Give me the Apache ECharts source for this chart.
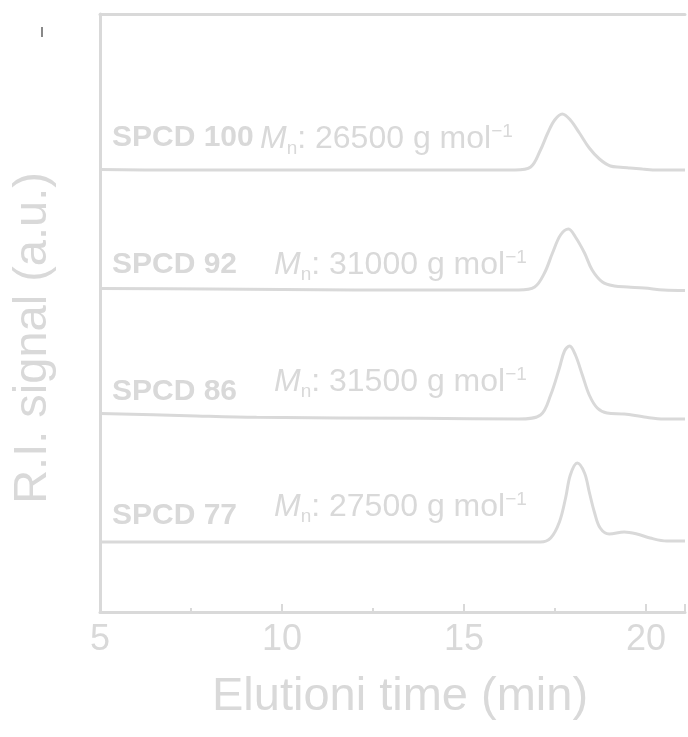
<!DOCTYPE html>
<html>
<head>
<meta charset="utf-8">
<script src="https://cdn.jsdelivr.net/npm/echarts@6/dist/echarts.min.js"></script>
<style>
  html, body { margin: 0; padding: 0; background: #ffffff; }
  #chart { width: 688px; height: 737px; }
</style>
</head>
<body>
<div id="chart"></div>
<script>
// GPC traces (R.I. signal vs elution time), one per sample.
const sampleNames = ['SPCD 100', 'SPCD 92', 'SPCD 86', 'SPCD 77'];
const molarMass = [26500, 31000, 31500, 27500];        // Mn, g mol^-1
const traceOffsets = [442, 322, 193, 70];              // vertical stacking of traces (a.u.)

const time100 = [5.0, 7.0, 10.0, 14.0, 16.4, 16.83, 17.10, 17.30, 17.49, 17.70, 17.92, 18.17, 18.44, 18.72, 19.02, 19.3, 19.56, 19.9, 20.30, 21.07];
const signal100 = [0.5, 0, 0, 0, 0, 3, 20, 37, 50, 56, 50, 37, 22, 11, 4, 2.8, 2, 1, 0, 0];

const time92 = [5.0, 8.0, 12.0, 16.5, 16.94, 17.21, 17.43, 17.65, 17.87, 18.06, 18.31, 18.52, 18.80, 19.13, 19.5, 19.95, 20.49, 21.07];
const signal92 = [1.5, 1, 0, 0, 3, 17, 37, 55, 61, 53, 37, 20, 8, 4, 3, 2, 0, -0.5];

const time86 = [5.0, 7.4, 9.3, 13.8, 16.5, 17.10, 17.38, 17.62, 17.76, 17.90, 18.06, 18.25, 18.44, 18.66, 18.93, 19.40, 19.95, 20.49, 21.07];
const signal86 = [5.5, 3.3, 1.7, 0.7, 0, 4, 24, 51, 68, 73, 64, 44, 24, 11, 6, 5, 2, 0, 0];

const time77 = [5.0, 10.0, 15.0, 17.1, 17.38, 17.62, 17.79, 17.92, 18.11, 18.31, 18.44, 18.58, 18.74, 18.99, 19.40, 19.75, 20.11, 20.57, 21.07];
const signal77 = [0, 0, 0, 0, 4, 20, 44, 67, 79, 69, 50, 30, 14, 8, 10, 8, 4, 1, 1];

const xTickValues = [5, 10, 15, 20];
const xAxisTitle = 'Elutioni time (min)';
const yAxisTitle = 'R.I. signal (a.u.)';

const traces = [
  [time100, signal100],
  [time92, signal92],
  [time86, signal86],
  [time77, signal77]
];

const GREY = '#d9d9d9';
const FONT = '"Liberation Sans", Arial, Helvetica, sans-serif';

// label placement (px)
const nameLayout = [
  { left: 112, top: 123 }, { left: 112, top: 250 }, { left: 112, top: 377 }, { left: 112, top: 501 }
];
const mnLayout = [
  { left: 260, top: 119 }, { left: 274, top: 245 }, { left: 274, top: 362 }, { left: 274, top: 487 }
];

const series = traces.map(function (tr, i) {
  const data = tr[0].map(function (t, k) { return [t, tr[1][k] + traceOffsets[i]]; });
  return {
    type: 'line',
    name: sampleNames[i],
    data: data,
    showSymbol: false,
    smooth: 0.35,
    lineStyle: { color: GREY, width: 3 },
    silent: true,
    z: 3
  };
});

// Mn label pieces: italic M, subscript n, value, superscript −1
const richMn = {
  it: { fontFamily: FONT, fontSize: 32, fontStyle: 'italic', fontWeight: 'normal', color: GREY, lineHeight: 40 },
  sub: { fontFamily: FONT, fontSize: 19, fontWeight: 'normal', color: GREY, lineHeight: 18, padding: [20, 0, 0, 0] },
  txt: { fontFamily: FONT, fontSize: 32, fontWeight: 'normal', color: GREY, lineHeight: 40 },
  sup: { fontFamily: FONT, fontSize: 19, fontWeight: 'normal', color: GREY, lineHeight: 18, padding: [0, 0, 14, 0] }
};

const titles = [];
sampleNames.forEach(function (name, i) {
  titles.push({
    text: name,
    left: nameLayout[i].left, top: nameLayout[i].top, padding: 0,
    textStyle: { fontFamily: FONT, fontSize: 30, fontWeight: 'bold', color: GREY, lineHeight: 30 }
  });
  titles.push({
    text: '{it|M}{sub|n}{txt|: ' + molarMass[i] + ' g mol}{sup|\u22121}',
    left: mnLayout[i].left, top: mnLayout[i].top, padding: 0,
    textStyle: { rich: richMn, fontWeight: 'normal', lineHeight: 40 }
  });
});

const xCommon = { type: 'value', min: 5, max: 21.07, interval: 5 };

const option = {
  animation: false,
  backgroundColor: '#ffffff',
  title: titles,
  grid: { left: 100, right: 0, top: 14, bottom: 125, containLabel: false },
  xAxis: [
    Object.assign({}, xCommon, {
      position: 'bottom',
      axisLine: { show: true, lineStyle: { color: GREY, width: 3, cap: 'round' } },
      axisTick: { show: true, inside: true, length: 8, lineStyle: { color: GREY, width: 2 } },
      minorTick: { show: true, splitNumber: 2, length: 4, lineStyle: { color: GREY, width: 2 } },
      splitLine: { show: false },
      axisLabel: {
        show: true, margin: 10, fontFamily: FONT, fontSize: 36, color: GREY,
        formatter: function (v) { return xTickValues.indexOf(v) >= 0 ? String(v) : ''; }
      }
    }),
    Object.assign({}, xCommon, {
      position: 'top',
      axisLine: { show: true, lineStyle: { color: GREY, width: 3, cap: 'round' } },
      axisTick: { show: false },
      axisLabel: { show: false },
      splitLine: { show: false }
    })
  ],
  yAxis: {
    type: 'value', min: 0, max: 598,
    axisLine: { show: true, lineStyle: { color: GREY, width: 3, cap: 'round' } },
    axisTick: { show: false },
    axisLabel: { show: false },
    splitLine: { show: false }
  },
  graphic: [
    {
      type: 'text', x: 400, y: 697,
      style: { text: xAxisTitle, fontFamily: FONT, fontSize: 47, fill: GREY, align: 'center', verticalAlign: 'middle' }
    },
    {
      type: 'text', x: 33, y: 338, rotation: Math.PI / 2,
      style: { text: yAxisTitle, fontFamily: FONT, fontSize: 47, fill: GREY, align: 'center', verticalAlign: 'middle' }
    },
    {
      type: 'line', shape: { x1: 42, y1: 27, x2: 42, y2: 37 },
      style: { stroke: '#3a3a3a', lineWidth: 1.2 }
    }
  ],
  series: series
};

const chart = echarts.init(document.getElementById('chart'), null, { renderer: 'canvas' });
chart.setOption(option);
</script>
</body>
</html>
